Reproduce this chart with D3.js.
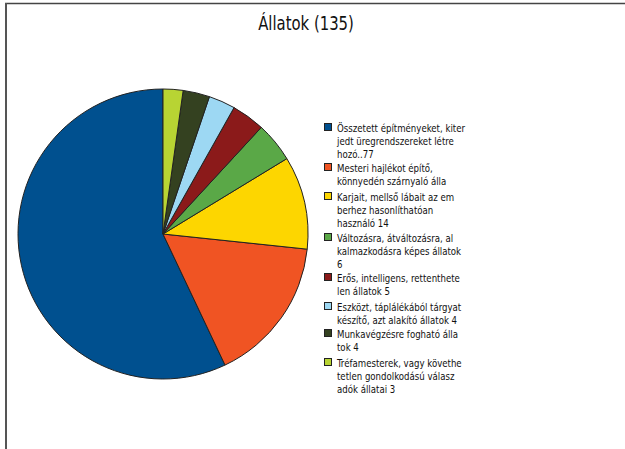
<!DOCTYPE html>
<html>
<head>
<meta charset="utf-8">
<script src="https://cdn.jsdelivr.net/npm/d3@7"></script>
<style>
  html, body { margin: 0; padding: 0; background: #fff; }
  svg { display: block; }
</style>
</head>
<body>
<script>
// Animal categories, their counts and slice colours (legend order)
const categories = [
  ["Összetett építményeket, kiter", "jedt üregrendszereket  létre", "hozó..77"],
  ["Mesteri hajlékot építő,", "könnyedén szárnyaló álla"],
  ["Karjait, mellső lábait az em", "berhez hasonlíthatóan", "használó 14"],
  ["Változásra, átváltozásra, al", "kalmazkodásra képes állatok", "6"],
  ["Erős, intelligens, rettenthete", "len állatok 5"],
  ["Eszközt, táplálékából tárgyat", "készítő, azt alakító állatok 4"],
  ["Munkavégzésre fogható álla", "tok 4"],
  ["Tréfamesterek, vagy követhe", "tetlen gondolkodású válasz", "adók állatai 3"]
];
const values = [77, 22, 14, 6, 5, 4, 4, 3];
const colors = ["#00508f", "#f05423", "#fdd600", "#5aa847", "#8b1a1a", "#9dd8f3", "#344120", "#b8d433"];
const title = "Állatok (135)";

const W = 625, H = 449;
const svg = d3.select("body").append("svg").attr("width", W).attr("height", H);

// frame edges
svg.append("line").attr("x1", 5).attr("x2", W).attr("y1", 3.5).attr("y2", 3.5)
  .attr("stroke", "#444").attr("stroke-width", 1.5);
svg.append("line").attr("x1", 6).attr("x2", 6).attr("y1", 3).attr("y2", H)
  .attr("stroke", "#555").attr("stroke-width", 2);

const font = "'DejaVu Sans Condensed', 'DejaVu Sans', sans-serif";
const squeeze = 0.87;

svg.append("g").attr("transform", `translate(306,30) scale(${squeeze},1)`)
  .append("text").attr("text-anchor", "middle")
  .attr("font-family", font).attr("font-size", 19).attr("fill", "#111")
  .text(title);

// pie: first category runs counter-clockwise from 12 o'clock
const data = values.map((v, i) => ({ v, i }));
const pie = d3.pie().value(d => d.v).sort(null)
  .startAngle(0).endAngle(-2 * Math.PI);
const arc = d3.arc().innerRadius(0).outerRadius(145);

const g = svg.append("g").attr("transform", "translate(163,234)");
g.selectAll("path").data(pie(data)).join("path")
  .attr("d", arc)
  .attr("fill", d => colors[d.data.i])
  .attr("stroke", "#222").attr("stroke-width", 1)
  .attr("stroke-linejoin", "round");

// legend
const legendTops = [128, 168, 197, 238, 278, 307, 334, 363];
const lineH = 13;
const lg = svg.append("g");
categories.forEach((lines, i) => {
  const y = legendTops[i];
  lg.append("rect").attr("x", 324.5).attr("y", y - 4.5).attr("width", 7).attr("height", 7)
    .attr("fill", colors[i]).attr("stroke", "#222").attr("stroke-width", 1);
  const t = lg.append("g").attr("transform", `translate(337,${y + 4}) scale(${squeeze},1)`)
    .append("text").attr("font-family", font).attr("font-size", 11).attr("fill", "#111");
  lines.forEach((s, k) => {
    t.append("tspan").attr("x", 0).attr("y", k * lineH).text(s);
  });
});
</script>
</body>
</html>
